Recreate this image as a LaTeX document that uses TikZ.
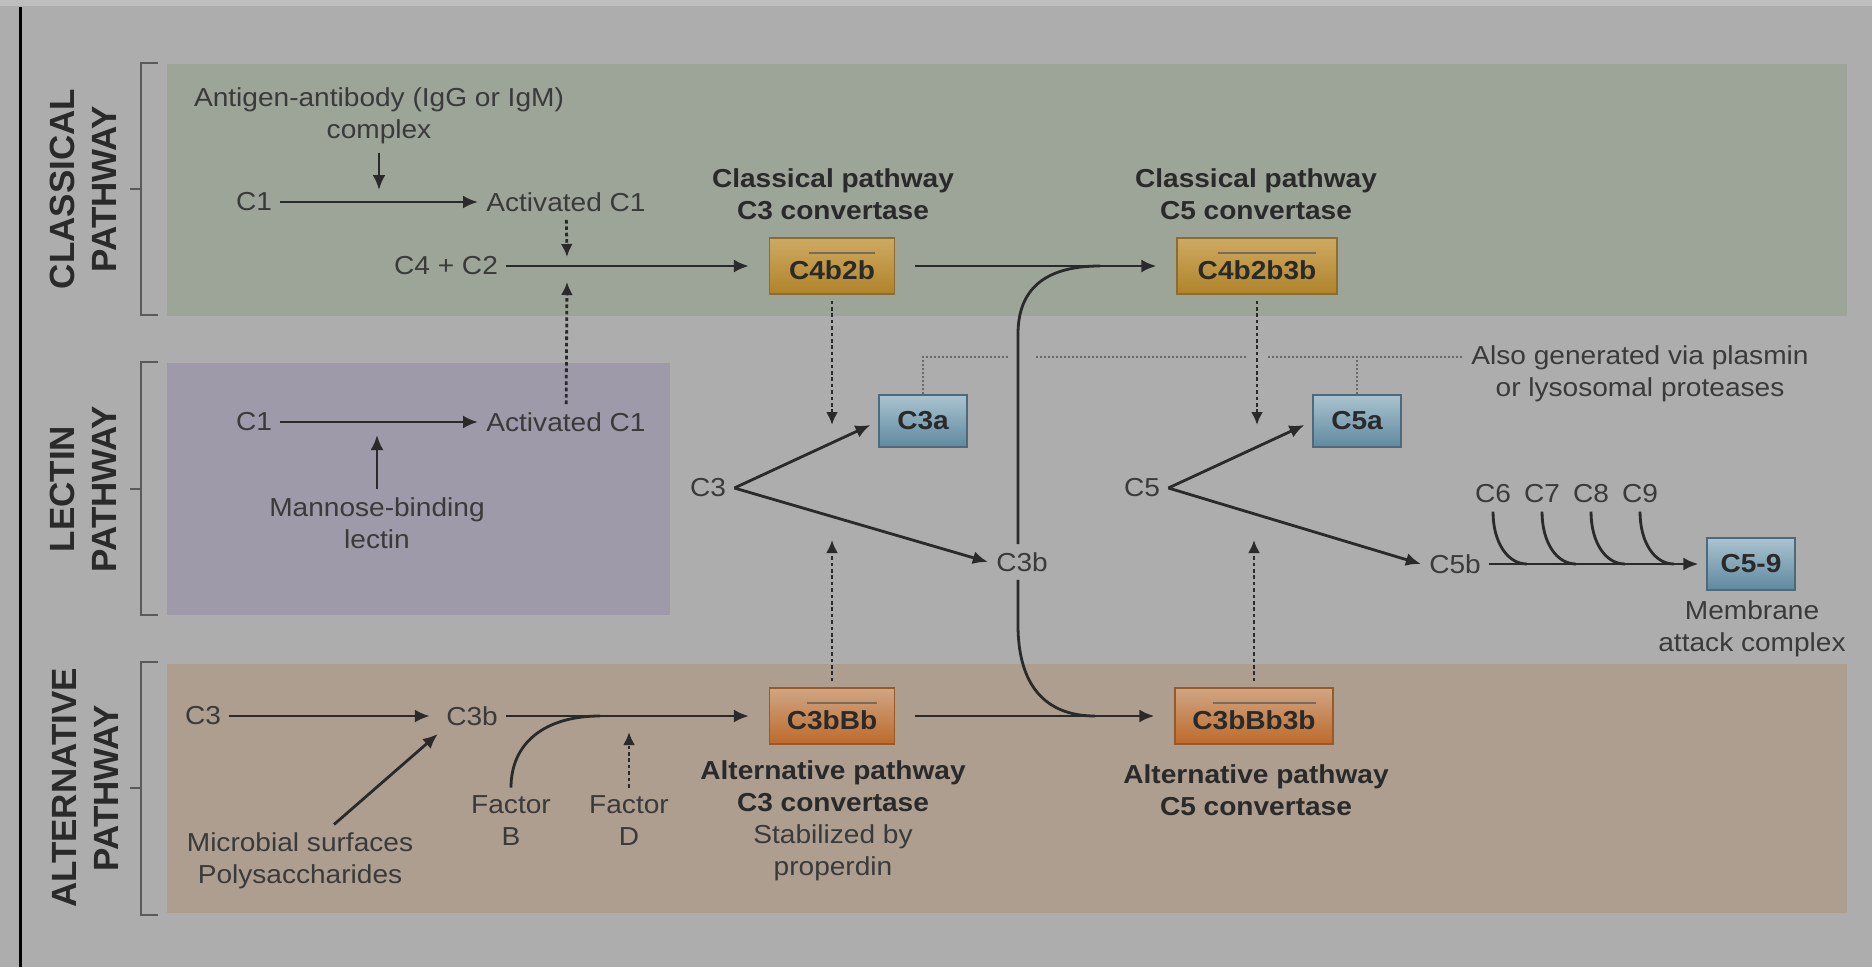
\documentclass[tikz,border=0pt]{standalone}
\usepackage{fontspec}
\setmainfont{Liberation Sans}[FakeStretch=1.08]
\newfontfamily\sidefont{Liberation Sans}
\usetikzlibrary{arrows.meta}
\definecolor{bgray}{HTML}{ADADAD}
\definecolor{topgray}{HTML}{BEBEBE}
\definecolor{clsband}{HTML}{9CA597}
\definecolor{lecband}{HTML}{9E9AA9}
\definecolor{altband}{HTML}{AE9E8F}
\definecolor{ink}{HTML}{2A2A2A}
\definecolor{softink}{HTML}{3A3A3A}
\definecolor{brackgray}{HTML}{5A5A5A}
\definecolor{hintgray}{HTML}{6A6A6A}
\definecolor{goldtop}{HTML}{CDAA62}
\definecolor{goldbot}{HTML}{B0832A}
\definecolor{golddraw}{HTML}{8C6C30}
\definecolor{orgtop}{HTML}{CFA684}
\definecolor{orgbot}{HTML}{BD6A2A}
\definecolor{orgdraw}{HTML}{9A5A28}
\definecolor{bluetop}{HTML}{AAC3CF}
\definecolor{bluebot}{HTML}{5F89A0}
\definecolor{bluedraw}{HTML}{4C6A7C}
\definecolor{barline}{HTML}{7A6A5A}
\newcommand{\barred}[1]{\vbox{{\color{barline}\hrule height 0.9pt}\kern 3.2pt\hbox{#1}}}
\begin{document}
\begin{tikzpicture}[x=0.5pt,y=-0.5pt,
    every node/.style={font=\fontsize{13}{16}\selectfont, text=softink, inner sep=4pt},
    title/.style={font=\bfseries\fontsize{13}{16}\selectfont, text=ink, align=center},
    side/.style={font=\sidefont\bfseries\fontsize{17.5}{21}\selectfont, text=ink, rotate=90, align=center},
    cplx/.style={draw, line width=0.6pt, font=\bfseries\fontsize{13}{16}\selectfont, text=ink, minimum height=28pt, inner sep=2pt},
    goldbox/.style={cplx, draw=golddraw, top color=goldtop, bottom color=goldbot},
    orangebox/.style={cplx, draw=orgdraw, top color=orgtop, bottom color=orgbot},
    bluebox/.style={cplx, draw=bluedraw, top color=bluetop, bottom color=bluebot, minimum width=44pt, minimum height=26pt},
    arr/.style={draw=ink, line width=1.4pt, -{Latex[length=7.5pt,width=6.5pt]}},
    link/.style={draw=ink, line width=1.4pt},
    dotarr/.style={draw=ink, line width=1.4pt, dash pattern=on 1.8pt off 1.4pt, -{Latex[length=6.5pt,width=6pt]}},
    hint/.style={draw=hintgray, line width=0.7pt, dash pattern=on 1pt off 1pt},
    brack/.style={draw=brackgray, line width=0.8pt}]
    \fill[bgray] (0,0) rectangle (1872,967);
    \fill[topgray] (0,0) rectangle (1872,6);
    \fill[clsband] (167,64) rectangle (1847,316);
    \fill[lecband] (167,363) rectangle (670,615);
    \fill[altband] (167,664) rectangle (1847,913);
    \draw[black,line width=1.5pt] (20,7) -- (20,967);
    \draw[brack] (158,63) -- (141,63) -- (141,315) -- (158,315) (141,189) -- (130,189);
    \draw[brack] (158,362) -- (141,362) -- (141,615) -- (158,615) (141,489) -- (130,489);
    \draw[brack] (158,662) -- (141,662) -- (141,915) -- (158,915) (141,788) -- (130,788);
    \node[side] (sdcl) at (83,189) {CLASSICAL\\PATHWAY};
    \node[side] (sdlc) at (83,489) {LECTIN\\PATHWAY};
    \node[side] (sdal) at (85,788) {ALTERNATIVE\\PATHWAY};

    \node[align=center] (ag) at (379,116) {Antigen-antibody (IgG or IgM)\\complex};
    \node (c1cl) at (254,202) {C1};
    \node (actcl) at (566,202) {Activated C1};
    \node (c4c2) at (446,266) {C4 + C2};
    \node[goldbox,minimum width=62.5pt] (c4b2b) at (832,266) {C\barred{4b2b}};
    \node[goldbox,minimum width=80pt] (c4b2b3b) at (1257,266) {C\barred{4b2b3b}};
    \node[title] (ttcl3) at (833,194) {Classical pathway\\C3 convertase};
    \node[title] (ttcl5) at (1256,194) {Classical pathway\\C5 convertase};
    \coordinate (clhit) at (379,190);
    \coordinate (acthit) at (567,257);
    \coordinate (lchit) at (567,282);
    \coordinate (c3down) at (832,425);
    \coordinate (c5down) at (1257,425);
    \coordinate (topjoin) at (1100,266);

    \node (c1lc) at (254,422) {C1};
    \node (actlc) at (566,422) {Activated C1};
    \node[align=center] (mbl) at (377,523) {Mannose-binding\\lectin};
    \coordinate (lcup) at (377,435);

    \node (c3m) at (708,488) {C3};
    \node[bluebox] (c3a) at (923,421) {C3a};
    \node (c3bm) at (1022,562) {C3b};
    \node (c5m) at (1142,488) {C5};
    \node[bluebox] (c5a) at (1357,421) {C5a};
    \node (c5b) at (1455,564) {C5b};
    \node[bluebox] (c59) at (1751,564) {C5-9};
    \node[align=center] (mac) at (1752,629) {Membrane\\attack complex};
    \node[align=center] (also) at (1640,374) {Also generated via plasmin\\or lysosomal proteases};
    \node (c6) at (1493,494) {C6};
    \node (c7) at (1542,494) {C7};
    \node (c8) at (1591,494) {C8};
    \node (c9) at (1640,494) {C9};
    \coordinate (j6) at (1527,564);
    \coordinate (j7) at (1576,564);
    \coordinate (j8) at (1625,564);
    \coordinate (j9) at (1674,564);
    \coordinate (gapa) at (1009,357);
    \coordinate (gapb) at (1036,357);
    \coordinate (gapc) at (1248,357);
    \coordinate (gapd) at (1268,357);
    \coordinate (hintr) at (1462,357);

    \node (c3al) at (203,716) {C3};
    \node (c3bal) at (472,716) {C3b};
    \node[orangebox,minimum width=62.5pt] (c3bbb) at (832,716) {C\barred{3bBb}};
    \node[orangebox,minimum width=79pt] (c3bbb3b) at (1254,716) {C\barred{3bBb3b}};
    \node[align=center] (fb) at (511,821) {Factor\\B};
    \node[align=center] (fd) at (629,821) {Factor\\D};
    \node[align=center] (mic) at (300,861) {Microbial surfaces\\Polysaccharides};
    \node[align=center] (ttal3) at (833,821) {\textcolor{ink}{\textbf{Alternative pathway}}\\\textcolor{ink}{\textbf{C3 convertase}}\\Stabilized by\\properdin};
    \node[title] (ttal5) at (1256,790) {Alternative pathway\\C5 convertase};
    \coordinate (bjoin) at (600,716);
    \coordinate (fdup) at (629,732);
    \coordinate (c3up) at (832,540);
    \coordinate (c5up) at (1254,540);
    \coordinate (botjoin) at (1095,716);

    \draw[arr] (ag) -- (clhit);
    \draw[arr] (c1cl) -- (actcl);
    \draw[dotarr] (actcl) -- (acthit);
    \draw[arr,shorten >=10pt] (c4c2) -- (c4b2b);
    \draw[arr,shorten <=10pt,shorten >=10pt] (c4b2b) -- (c4b2b3b);
    \draw[dotarr,shorten <=3pt] (c4b2b) -- (c3down);
    \draw[dotarr,shorten <=3pt] (c4b2b3b) -- (c5down);
    \draw[arr] (c1lc) -- (actlc);
    \draw[arr] (mbl) -- (lcup);
    \draw[dotarr] (actlc) -- (lchit);

    \draw[arr] (c3m.east) -- ([shift={(-4pt,-2pt)}]c3a.west);
    \draw[arr] (c3m.east) -- (c3bm.west);
    \draw[arr] (c5m.east) -- ([shift={(-4pt,-2pt)}]c5a.west);
    \draw[arr] (c5m.east) -- (c5b.west);
    \draw[arr,shorten >=4pt] (c5b) -- (c59);
    \draw[link] (c6.south) .. controls +(0,30) and +(-20,0) .. (j6);
    \draw[link] (c7.south) .. controls +(0,30) and +(-20,0) .. (j7);
    \draw[link] (c8.south) .. controls +(0,30) and +(-20,0) .. (j8);
    \draw[link] (c9.south) .. controls +(0,30) and +(-20,0) .. (j9);
    \draw[link] ([xshift=-2pt]c3bm.north) -- ++(0,-210) .. controls +(0,-45) and +(-55,0) .. (topjoin);
    \draw[link] ([xshift=-2pt]c3bm.south) -- ++(0,45) .. controls +(0,60) and +(-50,0) .. (botjoin);
    \draw[hint] (c3a.north) |- (gapa);
    \draw[hint] (gapb) -- (gapc);
    \draw[hint] (gapd) -- (hintr);
    \draw[hint] (c5a.north) -- (c5a.north |- hintr);

    \draw[arr,shorten >=4pt] (c3al) -- (c3bal);
    \draw[arr,shorten >=10pt] (c3bal) -- (c3bbb);
    \draw[link] (fb.north) .. controls +(0,-45) and +(-55,0) .. (bjoin);
    \draw[dotarr] (fd) -- (fdup);
    \draw[arr] ([xshift=17pt]mic.north) -- (c3bal.south west);
    \draw[arr,shorten <=10pt,shorten >=10pt] (c3bbb) -- (c3bbb3b);
    \draw[dotarr,shorten <=3pt] (c3bbb) -- (c3up);
    \draw[dotarr,shorten <=3pt] (c3bbb3b) -- (c5up);
  \end{tikzpicture}
\end{document}
